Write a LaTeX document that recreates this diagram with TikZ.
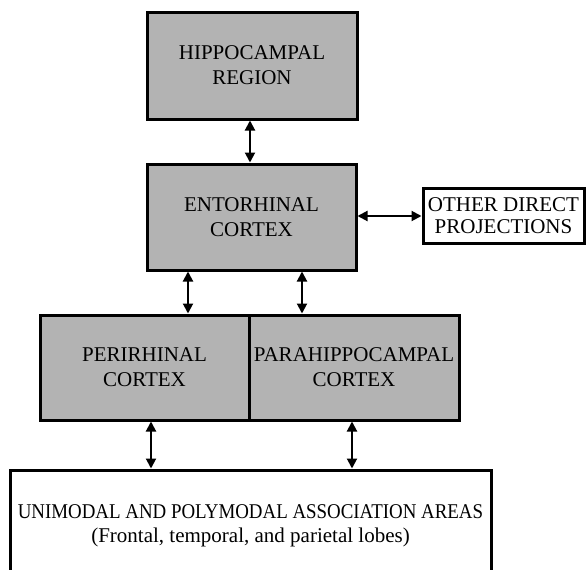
\documentclass[tikz,border=0pt]{standalone}
\usepackage{fontspec}
\setmainfont{Liberation Serif}
\usetikzlibrary{arrows.meta}
\definecolor{boxgray}{RGB}{179,179,179}
\tikzset{
  graybox/.style={draw=black, line width=3pt, fill=boxgray, align=center, inner sep=0pt,
    font=\fontsize{21}{25}\selectfont},
  whitebox/.style={draw=black, line width=3pt, fill=white, align=center, inner sep=0pt,
    font=\fontsize{21}{21.5}\selectfont},
  biarrow/.style={line width=2pt, {Triangle[length=10pt,width=10pt]}-{Triangle[length=10pt,width=10pt]}, shorten <=0pt, shorten >=0pt}
}
\begin{document}
\begin{tikzpicture}[x=1pt,y=-1pt]
\useasboundingbox (0,0) rectangle (587,570);
\node[graybox, minimum width=210pt, minimum height=107pt] (hippo) at (252,65.5) {HIPPOCAMPAL\\REGION};
\node[graybox, minimum width=209pt, minimum height=106pt] (ent) at (251.5,217) {ENTORHINAL\\CORTEX};
\node[whitebox, minimum width=161pt, minimum height=55pt] (other) at (503.5,215.5) {OTHER DIRECT\\PROJECTIONS};
\node[graybox, minimum width=209pt, minimum height=105pt] (peri) at (144.5,367.5) {PERIRHINAL\\CORTEX};
\node[graybox, minimum width=210pt, minimum height=105pt] (para) at (354,367.5) {PARAHIPPOCAMPAL\\CORTEX};
\node[whitebox, minimum width=481pt, minimum height=112pt, font=\fontsize{21}{24}\selectfont] (assoc) at (250.5,526) {\scalebox{0.9}[1]{UNIMODAL AND POLYMODAL ASSOCIATION AREAS}\\(Frontal, temporal, and parietal lobes)};
\draw[biarrow] (hippo.south -| 250,0) -- (ent.north -| 250,0);
\draw[biarrow] (ent.east |- 0,216) -- (other.west |- 0,216);
\draw[biarrow] (ent.south -| 188,0) -- (peri.north -| 188,0);
\draw[biarrow] (ent.south -| 302,0) -- (para.north -| 302,0);
\draw[biarrow] (peri.south -| 151,0) -- (assoc.north -| 151,0);
\draw[biarrow] (para.south -| 352,0) -- (assoc.north -| 352,0);
\end{tikzpicture}
\end{document}
